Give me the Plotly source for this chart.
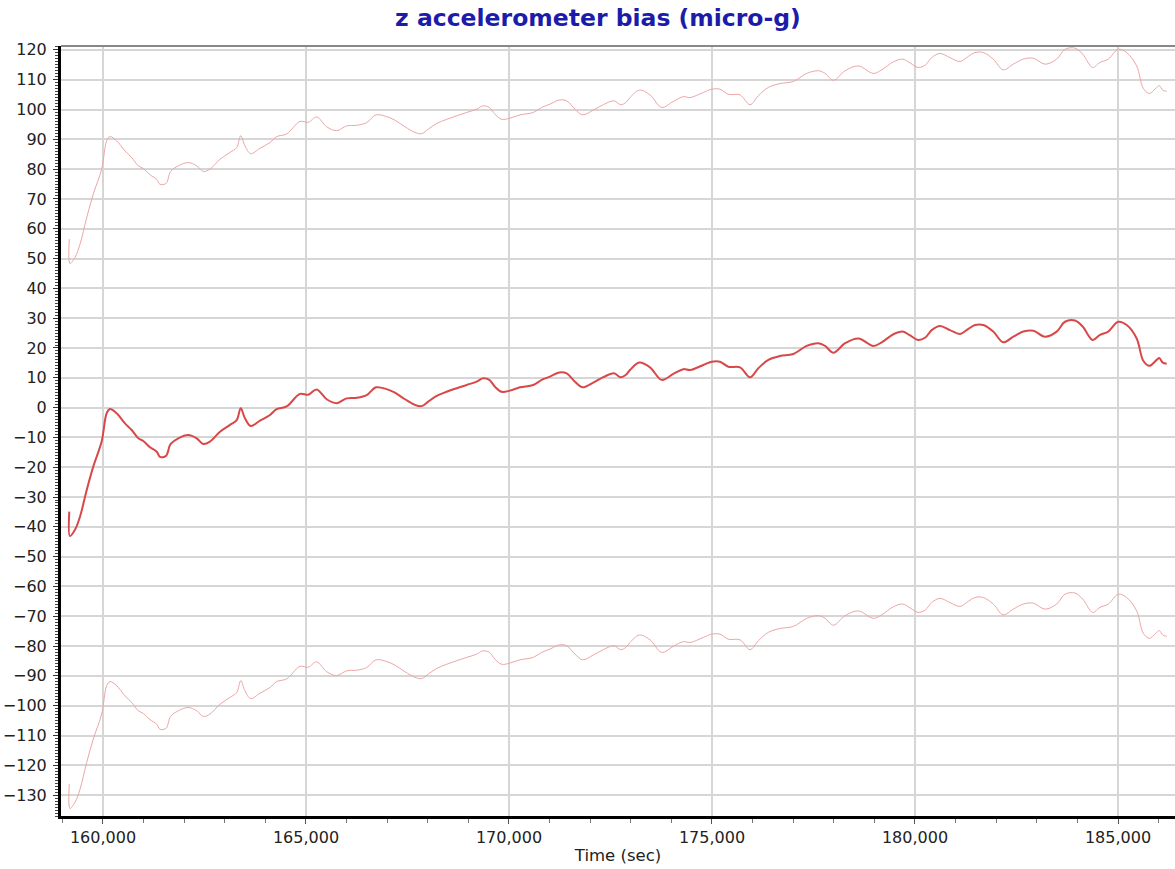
import plotly.graph_objects as go

# time stamps (sec)
time_sec = [
    159170, 159187, 159310, 159434, 159598, 159761, 159967, 160091, 160172, 160337,
    160542, 160707, 160870, 160993, 161158, 161323, 161404, 161552, 161667, 161855,
    162101, 162308, 162470, 162635, 162882, 163128, 163293, 163392, 163497, 163638,
    163867, 164113, 164278, 164524, 164852, 165056, 165263, 165510, 165756, 166002,
    166250, 166495, 166724, 166988, 167192, 167438, 167685, 167849, 168012, 168219,
    168465, 168712, 168958, 169204, 169352, 169515, 169655, 169820, 170024, 170271,
    170599, 170806, 171010, 171239, 171421, 171625, 171815, 172076, 172322, 172586,
    172751, 172882, 172980, 173210, 173473, 173761, 174047, 174293, 174460, 174786,
    174991, 175198, 175402, 175690, 175937, 176142, 176388, 176676, 177004, 177333,
    177621, 177786, 177990, 178278, 178606, 178975, 179180, 179468, 179697, 179880,
    180074, 180254, 180411, 180615, 180861, 181107, 181270, 181478, 181682, 181928,
    182174, 182421, 182667, 182914, 183201, 183490, 183694, 183940, 184130, 184376,
    184556, 184760, 185007, 185214, 185460, 185623, 185771, 185953, 186017, 186101,
    186199,
]

# estimated bias (micro-g)
bias = [
    -34.9, -43.1, -41.0, -36.6, -27.7, -19.8, -11.4, -1.9, -0.5, -1.9,
    -5.3, -7.5, -10.3, -11.2, -13.3, -14.8, -16.5, -16.2, -12.2, -10.3,
    -9.2, -10.3, -12.2, -11.4, -8.1, -5.8, -4.2, -0.2, -3.6, -6.2,
    -4.4, -2.5, -0.5, 0.4, 4.6, 4.3, 6.1, 2.8, 1.5, 3.1,
    3.3, 4.2, 6.8, 6.2, 5.0, 2.8, 0.9, 0.5, 2.0, 3.9,
    5.3, 6.5, 7.6, 8.7, 9.8, 9.3, 7.0, 5.3, 5.7, 6.8,
    7.6, 9.3, 10.4, 11.8, 11.5, 8.7, 6.8, 8.4, 10.2, 11.5,
    10.2, 11.0, 12.6, 15.1, 13.5, 9.3, 11.3, 12.9, 12.6, 14.3,
    15.4, 15.4, 13.7, 13.5, 10.2, 13.2, 16.0, 17.3, 18.0, 20.7,
    21.6, 20.7, 18.4, 21.6, 23.2, 20.7, 21.9, 24.6, 25.5, 24.2,
    22.7, 23.5, 26.0, 27.4, 26.0, 24.7, 26.0, 27.7, 27.7, 25.5,
    21.9, 23.8, 25.5, 25.8, 23.8, 25.5, 28.8, 29.2, 27.2, 22.7,
    24.4, 25.5, 28.8, 27.7, 23.2, 15.7, 14.0, 16.0, 16.6, 15.1,
    14.7,
]

# upper bound (light pink, top)
upper = [
    56.5, 48.3, 50.4, 54.8, 63.7, 71.6, 80.0, 89.5, 90.9, 89.5,
    86.1, 83.9, 81.1, 80.2, 78.1, 76.6, 74.9, 75.2, 79.2, 81.1,
    82.2, 81.1, 79.2, 80.0, 83.3, 85.6, 87.2, 91.2, 87.8, 85.2,
    87.0, 88.9, 90.9, 91.8, 96.0, 95.7, 97.5, 94.2, 92.9, 94.5,
    94.7, 95.6, 98.2, 97.6, 96.4, 94.2, 92.3, 91.9, 93.4, 95.3,
    96.7, 97.9, 99.0, 100.1, 101.2, 100.7, 98.4, 96.7, 97.1, 98.2,
    99.0, 100.7, 101.8, 103.2, 102.9, 100.1, 98.2, 99.8, 101.6, 102.9,
    101.6, 102.4, 104.0, 106.5, 104.9, 100.7, 102.7, 104.3, 104.0, 105.7,
    106.8, 106.8, 105.1, 104.9, 101.6, 104.6, 107.4, 108.7, 109.4, 112.1,
    113.0, 112.1, 109.8, 113.0, 114.6, 112.1, 113.3, 116.0, 116.9, 115.6,
    114.1, 114.9, 117.4, 118.8, 117.4, 116.1, 117.4, 119.1, 119.1, 116.9,
    113.3, 115.2, 116.9, 117.2, 115.2, 116.9, 120.2, 120.6, 118.6, 114.1,
    115.8, 116.9, 120.2, 119.1, 114.6, 107.1, 105.4, 107.4, 108.0, 106.5,
    106.1,
]

# lower bound (light pink, bottom)
lower = [
    -126.3, -134.5, -132.4, -128.0, -119.1, -111.2, -102.8, -93.3, -91.9, -93.3,
    -96.7, -98.9, -101.7, -102.6, -104.7, -106.2, -107.9, -107.6, -103.6, -101.7,
    -100.6, -101.7, -103.6, -102.8, -99.5, -97.2, -95.6, -91.6, -95.0, -97.6,
    -95.8, -93.9, -91.9, -91.0, -86.8, -87.1, -85.3, -88.6, -89.9, -88.3,
    -88.1, -87.2, -84.6, -85.2, -86.4, -88.6, -90.5, -90.9, -89.4, -87.5,
    -86.1, -84.9, -83.8, -82.7, -81.6, -82.1, -84.4, -86.1, -85.7, -84.6,
    -83.8, -82.1, -81.0, -79.6, -79.9, -82.7, -84.6, -83.0, -81.2, -79.9,
    -81.2, -80.4, -78.8, -76.3, -77.9, -82.1, -80.1, -78.5, -78.8, -77.1,
    -76.0, -76.0, -77.7, -77.9, -81.2, -78.2, -75.4, -74.1, -73.4, -70.7,
    -69.8, -70.7, -73.0, -69.8, -68.2, -70.7, -69.5, -66.8, -65.9, -67.2,
    -68.7, -67.9, -65.4, -64.0, -65.4, -66.7, -65.4, -63.7, -63.7, -65.9,
    -69.5, -67.6, -65.9, -65.6, -67.6, -65.9, -62.6, -62.2, -64.2, -68.7,
    -67.0, -65.9, -62.6, -63.7, -68.2, -75.7, -77.4, -75.4, -74.8, -76.3,
    -76.7,
]

font_family = "DejaVu Sans"

fig = go.Figure()
fig.add_trace(go.Scatter(x=time_sec, y=upper, mode="lines", name="upper",
                         line=dict(color="#eca6a6", width=1, shape="spline")))
fig.add_trace(go.Scatter(x=time_sec, y=lower, mode="lines", name="lower",
                         line=dict(color="#eca6a6", width=1, shape="spline")))
fig.add_trace(go.Scatter(x=time_sec, y=bias, mode="lines", name="bias",
                         line=dict(color="#d84848", width=2, shape="spline")))

fig.update_layout(
    width=1175, height=869,
    margin=dict(l=61, r=0, t=46, b=53, autoexpand=False),
    paper_bgcolor="white", plot_bgcolor="white",
    showlegend=False,
    title=dict(text="<b>z accelerometer bias (micro-g)</b>",
               font=dict(family=font_family, size=23.5, color="#1c1caa"),
               x=0.482, xanchor="center", xref="paper",
               y=0.979, yanchor="middle", yref="container"),
    font=dict(family=font_family, size=16, color="#222222"),
)

fig.update_xaxes(
    range=[158966, 186404], dtick=5000, tick0=160000,
    tickformat=",d", showgrid=True, gridcolor="#d6d6d6", gridwidth=1.5,
    showline=True, linecolor="black", linewidth=3,
    ticks="outside", ticklen=5, tickcolor="#555555",
    minor=dict(dtick=1000, ticks="outside", ticklen=4, tickcolor="#777777", showgrid=False),
    zeroline=False, automargin=False,
    title=dict(text="Time (sec)", font=dict(size=16.5), standoff=4),
)
fig.update_yaxes(
    range=[-137.0, 121.3], dtick=10, tick0=0,
    showgrid=True, gridcolor="#d6d6d6", gridwidth=1.5,
    showline=True, linecolor="black", linewidth=3,
    ticks="outside", ticklen=5, tickcolor="#333333",
    minor=dict(dtick=1, ticks="outside", ticklen=3, tickcolor="#444444", showgrid=False),
    zeroline=False, automargin=False, ticklabelstandoff=3,
)

# grey frame line along the top of the plot area
fig.add_shape(type="line", xref="paper", yref="paper", x0=0, x1=1, y0=1, y1=1,
              line=dict(color="#888888", width=2))

# drop the browser's default body margin so the figure sits at (0, 0)
fig.write_html("out.html", config={"displayModeBar": False},
               post_script="document.body.style.margin='0';document.body.style.overflow='hidden';")
